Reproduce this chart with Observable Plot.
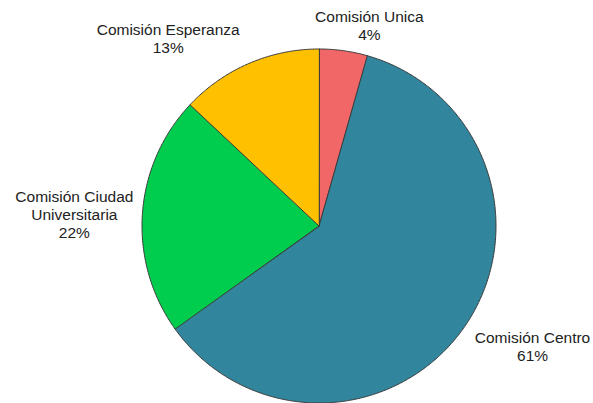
<!DOCTYPE html>
<html>
<head>
<meta charset="utf-8">
<script src="https://cdn.jsdelivr.net/npm/d3@7"></script>
<script src="https://cdn.jsdelivr.net/npm/@observablehq/plot@0.6"></script>
<style>
  html, body { margin: 0; padding: 0; background: #fff; }
  #chart svg { display: block; }
</style>
</head>
<body>
<div id="chart"></div>
<script>
// Data (clockwise from 12 o'clock)
const categories = ["Comisión Unica", "Comisión Centro", "Comisión Ciudad Universitaria", "Comisión Esperanza"];
const labelLines = [["Comisión Unica"], ["Comisión Centro"], ["Comisión Ciudad", "Universitaria"], ["Comisión Esperanza"]];
const shares = [4.4, 60.7, 21.9, 13.0];
const percentLabels = ["4%", "61%", "22%", "13%"];
const colors = ["#F16667", "#31859C", "#00CC4D", "#FFC000"];

const W = 593, H = 403;
const cx = 318.5, cy = 225.5, R = 177;
const FONT_SIZE = 15.5, LINE_PX = 18;
const FONT = "Liberation Sans, Arial, sans-serif";

const pie = d3.pie().sort(null).value(d => d)(shares);

// slice polygons in radius units (y up), angle measured clockwise from top
const slicePts = [];
pie.forEach((a, i) => {
  slicePts.push({name: categories[i], x: 0, y: 0});
  const n = Math.max(2, Math.ceil((a.endAngle - a.startAngle) / (Math.PI / 360)));
  for (let k = 0; k <= n; k++) {
    const t = a.startAngle + (a.endAngle - a.startAngle) * k / n;
    slicePts.push({name: categories[i], x: Math.sin(t), y: Math.cos(t)});
  }
});

// measure label boxes
const ctx = document.createElement("canvas").getContext("2d");
ctx.font = `${FONT_SIZE}px "Liberation Sans", Arial, sans-serif`;

// outside-end label placement: box touches the rim point at mid-angle
const labels = pie.map((a, i) => {
  const lines = [...labelLines[i], percentLabels[i]];
  const w = Math.max(...lines.map(t => ctx.measureText(t).width));
  const h = lines.length * LINE_PX;
  const m = (a.startAngle + a.endAngle) / 2;
  const s = Math.sin(m), c = Math.cos(m);
  const px = cx + R * s, py = cy - R * c;
  let bx, by;
  if (s > 0.3) bx = px + 11 + w / 2;
  else if (s < -0.3) bx = px - 9 - w / 2;
  else bx = px + 26;
  if (c > 0.3) by = py - 7 - h / 2;
  else if (c < -0.3) by = py + h / 2;
  else by = py;
  return {text: lines.join("\n"), x: (bx - cx) / R, y: (cy - by) / R};
});

const chart = Plot.plot({
  width: W, height: H,
  margin: 0,
  x: {domain: [-cx / R, (W - cx) / R], range: [0, W], axis: null},
  y: {domain: [-(H - cy) / R, cy / R], range: [H, 0], axis: null},
  color: {domain: categories, range: colors},
  style: {background: "#fff", fontFamily: FONT},
  marks: [
    Plot.line(slicePts, {
      x: "x", y: "y", z: "name", fill: "name",
      stroke: "#3a3a3a", strokeWidth: 1, curve: "linear-closed", strokeLinejoin: "round"
    }),
    Plot.text(labels, {
      x: "x", y: "y", text: "text",
      textAnchor: "middle", lineAnchor: "middle", lineHeight: LINE_PX / FONT_SIZE,
      fontSize: FONT_SIZE, fill: "#222", fontFamily: FONT
    })
  ]
});
document.getElementById("chart").append(chart);
</script>
</body>
</html>
